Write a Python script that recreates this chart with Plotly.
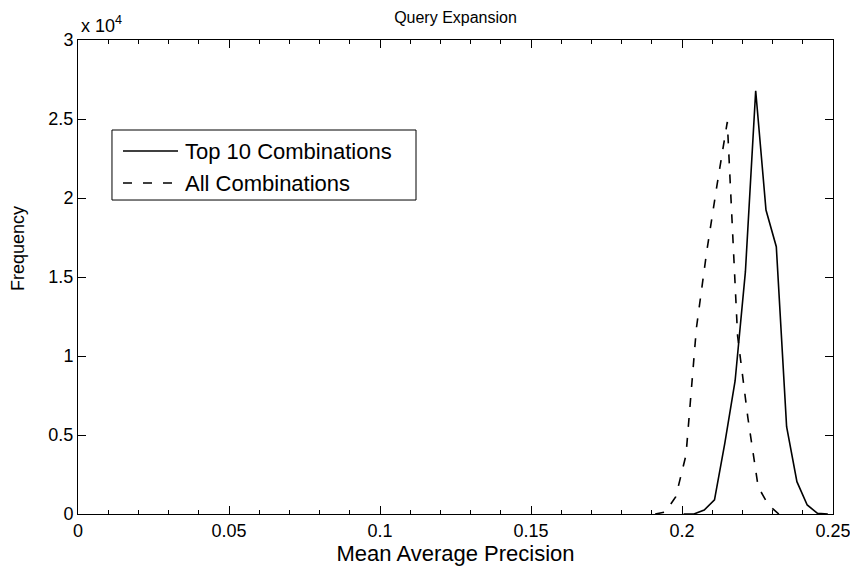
import plotly.graph_objects as go

# Data
top10_x = [0.20053, 0.20394, 0.20735, 0.21076, 0.21417, 0.21758, 0.22099, 0.22440,
           0.22781, 0.23123, 0.23464, 0.23805, 0.24146, 0.24487, 0.24828]
top10_y = [0, 0, 250, 890, 4475, 8420, 15320, 26790, 19240, 16920, 5525, 2045, 570, 40, 0]

all_x = [0.19113, 0.19454, 0.19795, 0.20132, 0.20477, 0.20818, 0.21159, 0.21500,
         0.21841, 0.22182, 0.22523, 0.22864, 0.23205, 0.23546]
all_y = [0, 130, 1100, 3730, 11770, 16600, 20820, 24810, 11270, 6076, 1710, 570, 0, 0]

series_names = ["Top 10 Combinations", "All Combinations"]

x_ticks = [0, 0.05, 0.1, 0.15, 0.2, 0.25]
x_ticklabels = ["0", "0.05", "0.1", "0.15", "0.2", "0.25"]
y_ticks = [0, 5000, 10000, 15000, 20000, 25000, 30000]
y_ticklabels = ["0", "0.5", "1", "1.5", "2", "2.5", "3"]

FONT = "Liberation Sans, Arial, Helvetica, sans-serif"
DASH = "9px,11px"

fig = go.Figure()
fig.add_trace(go.Scatter(x=top10_x, y=top10_y, mode="lines", name=series_names[0],
                         line=dict(color="black", width=1.6), showlegend=False))
fig.add_trace(go.Scatter(x=all_x, y=all_y, mode="lines", name=series_names[1],
                         line=dict(color="black", width=1.6, dash=DASH), showlegend=False))

axis_common = dict(showline=True, linecolor="black", linewidth=1, mirror="ticks",
                   ticks="inside", tickcolor="black", showgrid=False, zeroline=False,
                   automargin=False,
                   tickfont=dict(family=FONT, size=18, color="black"))

fig.update_xaxes(range=[0, 0.25], tickvals=x_ticks, ticktext=x_ticklabels, ticklen=8,
                 minor=dict(ticks="inside", ticklen=4, dtick=0.01, tickcolor="black", showgrid=False),
                 title=dict(text="Mean Average Precision", font=dict(family=FONT, size=22, color="black"), standoff=0),
                 **axis_common)
fig.update_yaxes(range=[0, 30000], tickvals=y_ticks, ticktext=y_ticklabels, ticklen=8,
                 **axis_common)

# y-axis label (placed like the reference)
fig.add_annotation(text="Frequency", xref="paper", yref="paper", x=-0.0795, y=0.561,
                   xanchor="center", yanchor="middle", textangle=-90, showarrow=False,
                   font=dict(family=FONT, size=18, color="black"))

# exponent label
fig.add_annotation(text="x 10<sup>4</sup>", xref="paper", yref="paper", x=0, y=1,
                   xanchor="left", yanchor="bottom", showarrow=False, xshift=1, yshift=2,
                   font=dict(family=FONT, size=18, color="black"))

# Legend (box, line samples and labels) placed like the reference
lg_x0, lg_x1, lg_y0, lg_y1 = 0.045, 0.4477, 0.6624, 0.8101
row_y = [0.7658, 0.6983]
sample_x0, sample_x1, text_x = 0.0596, 0.1325, 0.1390
fig.add_shape(type="rect", xref="paper", yref="paper", x0=lg_x0, x1=lg_x1, y0=lg_y0, y1=lg_y1,
              line=dict(color="black", width=1), fillcolor="white", layer="above")
for i, (name, dash) in enumerate(zip(series_names, ["solid", DASH])):
    fig.add_shape(type="line", xref="paper", yref="paper", x0=sample_x0, x1=sample_x1,
                  y0=row_y[i], y1=row_y[i], line=dict(color="black", width=1.6, dash=dash), layer="above")
    fig.add_annotation(text=name, xref="paper", yref="paper", x=text_x, y=row_y[i],
                       xanchor="left", yanchor="middle", showarrow=False,
                       font=dict(family=FONT, size=22, color="black"))

# The page adds an 8px body margin, so the figure is sized/offset to compensate
fig.update_layout(
    width=850, height=565,
    margin=dict(l=70, r=25, t=32, b=59),
    paper_bgcolor="white", plot_bgcolor="white",
    title=dict(text="Query Expansion", x=(455.5 - 8) / 850, xanchor="center", y=1 - 9 / 565, yanchor="middle",
               font=dict(family=FONT, size=16, color="black")),
    showlegend=False,
)

fig.write_html("out.html")
